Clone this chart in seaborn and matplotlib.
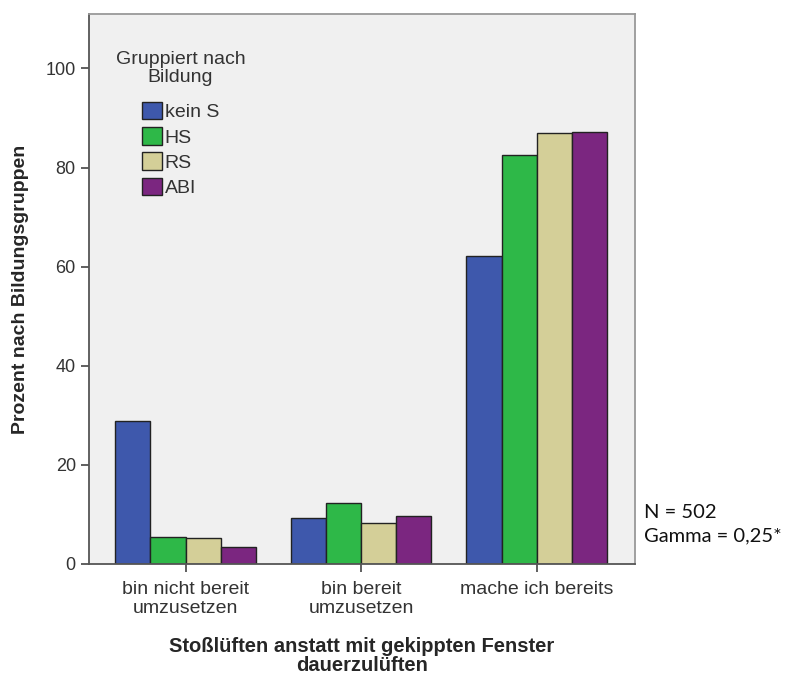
import pandas as pd
import matplotlib.pyplot as plt
import seaborn as sns

categories = ["bin nicht bereit\numzusetzen", "bin bereit\numzusetzen", "mache ich bereits"]
groups = ["kein S", "HS", "RS", "ABI"]
kein_s = [28.9, 9.2, 62.2]
hs = [5.4, 12.3, 82.6]
rs = [5.2, 8.2, 86.9]
abi = [3.4, 9.7, 87.1]
colors = ["#3E58AC", "#2EB848", "#D4CF98", "#7B2680"]

rows = []
for g, vals in zip(groups, [kein_s, hs, rs, abi]):
    for c, v in zip(categories, vals):
        rows.append({"Kategorie": c, "Bildung": g, "Prozent": v})
df = pd.DataFrame(rows)

sns.set_style("white")
plt.rcParams["font.family"] = ["Liberation Sans", "DejaVu Sans"]
plt.rcParams["font.sans-serif"] = ["Liberation Sans", "DejaVu Sans"]

fig = plt.figure(figsize=(7.85, 6.79), dpi=100)
ax = fig.add_axes([0.1134, 0.1694, 0.6955, 0.8100])
ax.set_facecolor("#F0F0F0")

sns.barplot(data=df, x="Kategorie", y="Prozent", hue="Bildung", order=categories,
            hue_order=groups, palette=colors, saturation=1, width=0.8,
            edgecolor="#222222", linewidth=1.0, ax=ax)

ax.set_ylim(0, 111)
ax.set_xlim(-0.55, 2.56)
ax.set_yticks([0, 20, 40, 60, 80, 100])
ax.tick_params(axis="both", direction="out", length=6, width=1.2, color="#444444",
               labelcolor="#333333", bottom=True, left=True)
ax.tick_params(axis="y", labelsize=13)
ax.tick_params(axis="x", labelsize=14, pad=6)
for s in ax.spines.values():
    s.set_color("#555555")
    s.set_linewidth(1.3)
ax.spines["top"].set_color("#999999")
ax.spines["right"].set_color("#999999")

ax.set_ylabel("Prozent nach Bildungsgruppen", fontsize=14, fontweight="bold", labelpad=12)
ax.set_xlabel("Stoßlüften anstatt mit gekippten Fenster\ndauerzulüften", fontsize=14.5,
              fontweight="bold", labelpad=14, linespacing=1.0)

leg = ax.legend(title="Gruppiert nach\nBildung", frameon=False, loc="upper left",
                bbox_to_anchor=(0.017, 0.965), fontsize=14, title_fontsize=14,
                handlelength=1.0, handleheight=1.0, handletextpad=0.15,
                labelspacing=0.3, alignment="center")
leg._legend_box.sep = 11.5  # more room under the title
leg.get_title().set_color("#333333")
leg.get_title().set_linespacing(1.1)
leg.get_title().set_multialignment("center")
for t in leg.get_texts():
    t.set_color("#333333")

fig.text(0.82, 0.258, "N = 502\nGamma = 0,25*", fontsize=14.5, family=["Lato", "DejaVu Sans"],
         va="top", ha="left", linespacing=1.45, color="#111111")

fig.savefig("out.png", dpi=100)
